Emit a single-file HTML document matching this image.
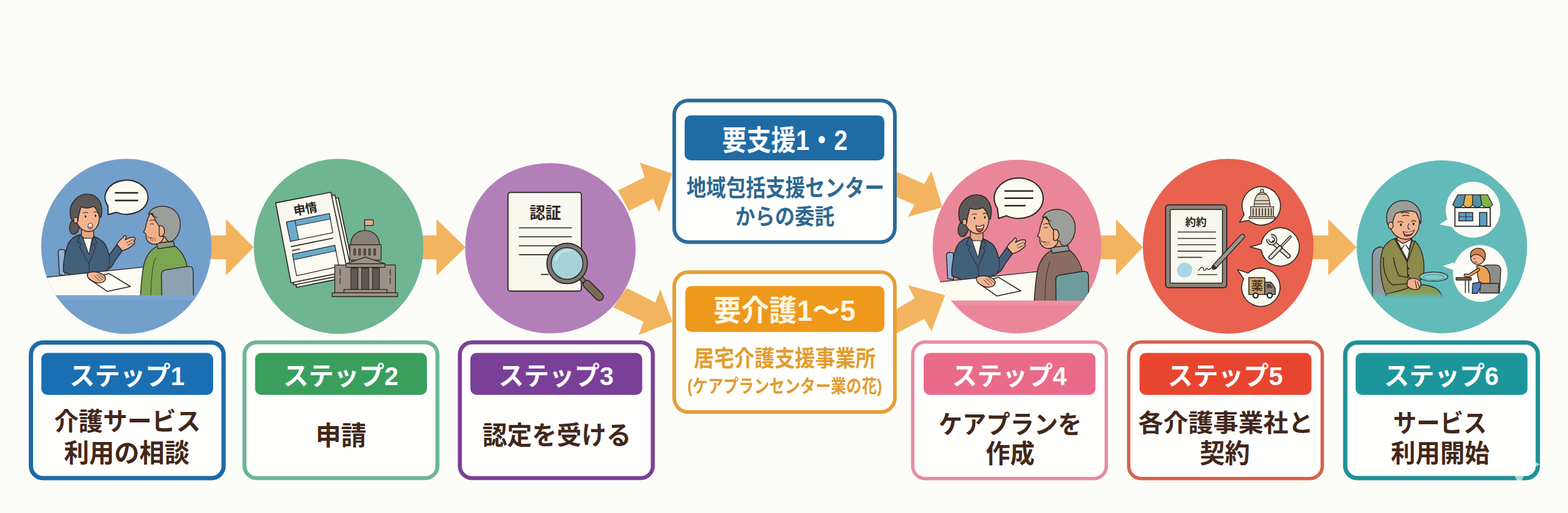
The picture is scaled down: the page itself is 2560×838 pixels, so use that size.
<!DOCTYPE html>
<html lang="ja"><head><meta charset="utf-8"><title>介護サービス利用の流れ</title>
<style>
html,body{margin:0;padding:0;background:#fcfcf8}
body{width:2560px;height:838px;overflow:hidden;position:relative;font-family:"Liberation Sans",sans-serif}
svg{position:absolute;left:0;top:0;display:block}
svg text{font-family:"Liberation Sans","Noto Sans CJK JP",sans-serif;font-weight:bold}
.t{position:absolute;margin:0;color:transparent;white-space:nowrap;text-align:center;overflow:hidden;font-weight:bold}
</style></head><body>
<svg width="2560" height="838" viewBox="0 0 2560 838">
<defs>
<clipPath id="cc1"><path d="M206.3 259.5C283.1 259.5 345.3 323.5 345.3 402.4C345.3 481.3 283.1 545.3 206.3 545.3C129.5 545.3 67.3 481.3 67.3 402.4C67.3 323.5 129.5 259.5 206.3 259.5Z"/></clipPath>
<clipPath id="cc2"><path d="M552.8 259.5C629.2 259.5 691.2 323.5 691.2 402.5C691.2 481.5 629.2 545.5 552.8 545.5C476.4 545.5 414.4 481.5 414.4 402.5C414.4 323.5 476.4 259.5 552.8 259.5Z"/></clipPath>
<clipPath id="cc3"><path d="M898.6 266.4C975.4 266.4 1037.7 328.7 1037.7 405.5C1037.7 482.3 975.4 544.6 898.6 544.6C821.8 544.6 759.5 482.3 759.5 405.5C759.5 324.1 817.2 266.4 898.6 266.4Z"/></clipPath>
<clipPath id="cc4"><path d="M1660.5 261.1C1742.4 261.1 1798.2 318.5 1798.2 402.8C1798.2 481.1 1736.6 544.5 1660.5 544.5C1584.4 544.5 1522.8 481.1 1522.8 402.8C1522.8 324.5 1584.4 261.1 1660.5 261.1Z"/></clipPath>
<clipPath id="cc5"><path d="M2005.2 259.6C2082.1 259.6 2144.5 323.5 2144.5 402.3C2144.5 481.1 2082.1 545.0 2005.2 545.0C1928.3 545.0 1865.9 481.1 1865.9 402.3C1865.9 323.5 1928.3 259.6 2005.2 259.6Z"/></clipPath>
<clipPath id="cc6"><path d="M2354.1 262.0C2430.9 262.0 2493.2 325.2 2493.2 403.2C2493.2 481.2 2430.9 544.4 2354.1 544.4C2277.3 544.4 2215.0 481.2 2215.0 403.2C2215.0 325.2 2277.3 262.0 2354.1 262.0Z"/></clipPath>
<linearGradient id="fade6" x1="0" y1="0" x2="0" y2="1"><stop offset="0" stop-color="#62bab9" stop-opacity="0"/><stop offset="1" stop-color="#62bab9"/></linearGradient>
</defs>
<path fill="#f2b45f" d="M340.0 384.5H368.8V358.0L414.2 404.0L368.8 450.0V423.5H340.0Z"/>
<path fill="#f2b45f" d="M686.0 384.5H712.5V358.0L760.0 404.0L712.5 450.0V423.5H686.0Z"/>
<path fill="#f2b45f" d="M1792.0 384.5H1822.0V358.0L1866.0 404.0L1822.0 450.0V423.5H1792.0Z"/>
<path fill="#f2b45f" d="M2139.0 384.5H2168.5V358.0L2215.0 404.0L2168.5 450.0V423.5H2139.0Z"/>
<path fill="#f2b45f" d="M1009.0 311.0L1052.5 289.4L1044.6 265.7L1097.5 283.5L1076.0 346.5L1066.3 324.8L1027.0 344.5Z"/>
<path fill="#f2b45f" d="M1023.0 470.5L1070.0 494.0L1078.0 472.4L1098.0 525.6L1042.7 547.2L1050.5 525.6L1001.3 502.0Z"/>
<path fill="#f2b45f" d="M1462.0 279.5L1508.9 300.4L1520.7 279.5L1538.4 338.6L1482.5 354.3L1493.0 334.6L1462.0 320.9Z"/>
<path fill="#f2b45f" d="M1462.0 506.0L1493.0 487.4L1482.5 465.7L1543.0 482.3L1520.7 541.3L1509.0 520.9L1462.0 545.3Z"/>
<path d="M206.3 259.5C283.1 259.5 345.3 323.5 345.3 402.4C345.3 481.3 283.1 545.3 206.3 545.3C129.5 545.3 67.3 481.3 67.3 402.4C67.3 323.5 129.5 259.5 206.3 259.5Z" fill="#739fcb"/>
<path d="M552.8 259.5C629.2 259.5 691.2 323.5 691.2 402.5C691.2 481.5 629.2 545.5 552.8 545.5C476.4 545.5 414.4 481.5 414.4 402.5C414.4 323.5 476.4 259.5 552.8 259.5Z" fill="#6fb592"/>
<path d="M898.6 266.4C975.4 266.4 1037.7 328.7 1037.7 405.5C1037.7 482.3 975.4 544.6 898.6 544.6C821.8 544.6 759.5 482.3 759.5 405.5C759.5 324.1 817.2 266.4 898.6 266.4Z" fill="#b37fb9"/>
<path d="M1660.5 261.1C1742.4 261.1 1798.2 318.5 1798.2 402.8C1798.2 481.1 1736.6 544.5 1660.5 544.5C1584.4 544.5 1522.8 481.1 1522.8 402.8C1522.8 324.5 1584.4 261.1 1660.5 261.1Z" fill="#e98799"/>
<path d="M2005.2 259.6C2082.1 259.6 2144.5 323.5 2144.5 402.3C2144.5 481.1 2082.1 545.0 2005.2 545.0C1928.3 545.0 1865.9 481.1 1865.9 402.3C1865.9 323.5 1928.3 259.6 2005.2 259.6Z" fill="#e8624f"/>
<path d="M2354.1 262.0C2430.9 262.0 2493.2 325.2 2493.2 403.2C2493.2 481.2 2430.9 544.4 2354.1 544.4C2277.3 544.4 2215.0 481.2 2215.0 403.2C2215.0 325.2 2277.3 262.0 2354.1 262.0Z" fill="#62bab9"/>
<rect x="50.5" y="559.5" width="314.5" height="221.4" rx="19.5" fill="#fffffd" stroke="#1d6aa5" stroke-width="7.0"/>
<rect x="67.5" y="576.5" width="280.5" height="68.5" rx="10.0" fill="#1a6fb3"/>
<text x="207.5" y="629.3" font-size="42" fill="#fdfdfd" text-anchor="middle" textLength="188" lengthAdjust="spacingAndGlyphs">ステップ1</text>
<text x="208" y="703" font-size="41" fill="#42271a" text-anchor="middle" textLength="239" lengthAdjust="spacingAndGlyphs">介護サービス</text>
<text x="207.1" y="755.4" font-size="42" fill="#42271a" text-anchor="middle" textLength="205" lengthAdjust="spacingAndGlyphs">利用の相談</text>
<rect x="399.2" y="559.2" width="315.0" height="221.9" rx="19.8" fill="#fffffd" stroke="#6fb596" stroke-width="6.5"/>
<rect x="416.5" y="576.5" width="280.5" height="68.5" rx="10.0" fill="#3a9e5d"/>
<text x="556.5" y="629.3" font-size="42" fill="#fdfdfd" text-anchor="middle" textLength="188" lengthAdjust="spacingAndGlyphs">ステップ2</text>
<text x="556.8" y="727" font-size="43" fill="#42271a" text-anchor="middle" textLength="83" lengthAdjust="spacingAndGlyphs">申請</text>
<rect x="750.8" y="559.2" width="315.0" height="221.9" rx="19.8" fill="#fffffd" stroke="#7c3f99" stroke-width="6.5"/>
<rect x="768.0" y="576.5" width="280.5" height="68.5" rx="10.0" fill="#7a3f97"/>
<text x="908" y="629.3" font-size="42" fill="#fdfdfd" text-anchor="middle" textLength="188" lengthAdjust="spacingAndGlyphs">ステップ3</text>
<text x="908.9" y="725.7" font-size="42" fill="#42271a" text-anchor="middle" textLength="243" lengthAdjust="spacingAndGlyphs">認定を受ける</text>
<rect x="1490.2" y="558.8" width="316.0" height="222.9" rx="20.2" fill="#fffffd" stroke="#e58ca4" stroke-width="5.5"/>
<rect x="1508.0" y="576.5" width="280.5" height="68.5" rx="10.0" fill="#e96b89"/>
<text x="1648" y="629.3" font-size="42" fill="#fdfdfd" text-anchor="middle" textLength="187" lengthAdjust="spacingAndGlyphs">ステップ4</text>
<text x="1649.3" y="707.8" font-size="41" fill="#42271a" text-anchor="middle" textLength="234" lengthAdjust="spacingAndGlyphs">ケアプランを</text>
<text x="1649.2" y="755.8" font-size="42" fill="#42271a" text-anchor="middle" textLength="80" lengthAdjust="spacingAndGlyphs">作成</text>
<rect x="1842.8" y="558.8" width="316.0" height="222.9" rx="20.2" fill="#fffffd" stroke="#d5614d" stroke-width="5.5"/>
<rect x="1860.5" y="576.5" width="280.5" height="68.5" rx="10.0" fill="#e8452f"/>
<text x="2000.5" y="629.3" font-size="42" fill="#fdfdfd" text-anchor="middle" textLength="188" lengthAdjust="spacingAndGlyphs">ステップ5</text>
<text x="2001.3" y="705.1" font-size="40" fill="#42271a" text-anchor="middle" textLength="286" lengthAdjust="spacingAndGlyphs">各介護事業社と</text>
<text x="1999.8" y="756.1" font-size="43" fill="#42271a" text-anchor="middle" textLength="82" lengthAdjust="spacingAndGlyphs">契約</text>
<rect x="2196.3" y="559.5" width="314.5" height="221.4" rx="19.5" fill="#fffffd" stroke="#1e9197" stroke-width="7.0"/>
<rect x="2213.3" y="576.5" width="280.5" height="68.5" rx="10.0" fill="#1c959b"/>
<text x="2353.3" y="629.3" font-size="42" fill="#fdfdfd" text-anchor="middle" textLength="187" lengthAdjust="spacingAndGlyphs">ステップ6</text>
<text x="2351" y="706" font-size="41" fill="#42271a" text-anchor="middle" textLength="153" lengthAdjust="spacingAndGlyphs">サービス</text>
<text x="2351.2" y="754.8" font-size="41" fill="#42271a" text-anchor="middle" textLength="161" lengthAdjust="spacingAndGlyphs">利用開始</text>
<rect x="1100.8" y="164.3" width="360.2" height="231.1" rx="23.0" fill="#fffffd" stroke="#2a6b9b" stroke-width="6.0"/>
<rect x="1117.8" y="188.4" width="326.0" height="73.6" rx="10.0" fill="#1f6ba4"/>
<text x="1281.4" y="244.7" font-size="46" fill="#fdfdfd" text-anchor="middle" textLength="205" lengthAdjust="spacingAndGlyphs">要支援1・2</text>
<text x="1282.3" y="320" font-size="38" fill="#2e6891" text-anchor="middle" textLength="323" lengthAdjust="spacingAndGlyphs">地域包括支援センター</text>
<text x="1281.4" y="366.7" font-size="36" fill="#2e6891" text-anchor="middle" textLength="162" lengthAdjust="spacingAndGlyphs">からの委託</text>
<rect x="1100.8" y="444.6" width="360.2" height="228.4" rx="23.0" fill="#fffffd" stroke="#e69f35" stroke-width="6.0"/>
<rect x="1118.8" y="467.2" width="325.0" height="75.0" rx="10.0" fill="#ee991b"/>
<text x="1280.8" y="524" font-size="48" fill="#fdf6e4" text-anchor="middle" textLength="232" lengthAdjust="spacingAndGlyphs">要介護1～5</text>
<text x="1281.3" y="598.6" font-size="37" fill="#e19c2f" text-anchor="middle" textLength="297" lengthAdjust="spacingAndGlyphs">居宅介護支援事業所</text>
<text x="1281.2" y="640.8" font-size="30" fill="#e19c2f" text-anchor="middle" textLength="318" lengthAdjust="spacingAndGlyphs">(ケアプランセンター業の花)</text>
<g clip-path="url(#cc1)">
<g transform="translate(70 290) scale(.25068)">
<g transform=""><path d="M100 488Q100 468 120 468L144 472L144 640L108 632Z" fill="#93b2d8" stroke="#262220" stroke-width="5.5" stroke-linejoin="round" stroke-linecap="round"/><path d="M205 272C172 285 162 345 190 368C222 378 244 335 238 292Z" fill="#5b5957" stroke="#262220" stroke-width="5.5" stroke-linejoin="round" stroke-linecap="round"/><path d="M252 325L250 395L332 398L330 335Z" fill="#e9a682" stroke="#262220" stroke-width="5.5" stroke-linejoin="round" stroke-linecap="round"/><path d="M242 372C205 384 170 408 158 450C140 510 130 570 134 614L200 642L292 658L335 642L400 614L442 586C456 572 462 556 470 542L517 477L482 436L432 506C422 470 412 436 392 418C370 400 348 390 330 383L300 500L262 390Z" fill="#43607a" stroke="#262220" stroke-width="5.5" stroke-linejoin="round" stroke-linecap="round"/><path d="M263 396L319 396L300 502Z" fill="#fbfbf3" stroke="#262220" stroke-width="3"/><path d="M242 372L225 420L252 432L238 452L298 560M330 383L352 425L330 438L345 455L300 560L304 645M432 506C438 540 436 570 420 600" fill="none" stroke="#262220" stroke-width="4" stroke-linejoin="round" stroke-linecap="round" stroke-opacity=".85"/><path d="M214 270C204 214 240 168 300 170C352 174 374 220 367 272C362 322 336 352 300 352C260 352 224 320 214 270Z" fill="#f2b491" stroke="#262220" stroke-width="5.5" stroke-linejoin="round" stroke-linecap="round"/><path d="M182 264C158 160 238 100 300 108C366 115 398 182 378 260C371 264 366 250 362 238C355 214 346 200 330 188C300 202 270 202 250 190C240 216 232 250 228 284C210 292 188 286 182 264Z" fill="#5b5957" stroke="#262220" stroke-width="5.5" stroke-linejoin="round" stroke-linecap="round"/><ellipse cx="214" cy="278" rx="13" ry="19" fill="#f2b491" stroke="#262220" stroke-width="5.5" stroke-linejoin="round" stroke-linecap="round"/><ellipse cx="278" cy="254" rx="5" ry="8" fill="#262220"/><ellipse cx="343" cy="249" rx="5" ry="8" fill="#262220"/><path d="M262 232Q278 222 292 230M330 226Q345 220 356 228" fill="none" stroke="#262220" stroke-width="4" stroke-linecap="round"/><ellipse cx="309" cy="316" rx="15" ry="19" fill="#fdf6ee" stroke="#262220" stroke-width="4.5"/><path d="M296 322Q309 340 322 322Q309 314 296 322Z" fill="#d0574f"/><path d="M336 280l10 6M334 292l9 5" stroke="#d98a70" stroke-width="3.5" stroke-linecap="round"/><path d="M482 436C490 418 505 404 520 394L530 379C538 373 547 384 541 396L536 406C556 395 580 385 595 390C606 395 601 410 591 414C601 418 601 431 591 436C571 456 541 471 517 477Z" fill="#f2b491" stroke="#262220" stroke-width="5.5" stroke-linejoin="round" stroke-linecap="round"/><path d="M545 425L588 404M552 440L588 426" fill="none" stroke="#262220" stroke-width="3.5" stroke-linecap="round"/></g>
<path d="M-60 659L700 579V768H-60Z" fill="#fbfbf2"/><path d="M-60 659L700 579" fill="none" stroke="#262220" stroke-width="5"/>
<g transform=""><path d="M300 660L430 625L570 710L420 742Z" fill="#fdfdf8" stroke="#262220" stroke-width="6" stroke-linejoin="round"/><path d="M290 626C310 610 352 612 382 626C402 636 414 652 406 667C396 687 360 692 335 681C310 670 284 650 290 626Z" fill="#f2b491" stroke="#262220" stroke-width="5.5" stroke-linejoin="round" stroke-linecap="round"/><path d="M335 640L372 676M352 634L388 668M368 630L400 658" fill="none" stroke="#262220" stroke-width="3.5" stroke-linecap="round"/></g>
<g transform=""><path d="M716 396L760 446L846 436L822 376Z" fill="#e7a27e" stroke="#262220" stroke-width="5.5" stroke-linejoin="round" stroke-linecap="round"/><path d="M745 447C700 470 670 510 655 580C645 640 636 700 630 900 L962 900 L942 600C936 540 906 480 852 440Z" fill="#7ba551" stroke="#262220" stroke-width="5.5" stroke-linejoin="round" stroke-linecap="round"/><path d="M735 520C705 590 705 690 700 900" fill="none" stroke="#262220" stroke-width="4" stroke-linejoin="round" stroke-linecap="round" stroke-opacity=".8"/><path d="M738 428L850 416L858 448L750 464Z" fill="#8d9c7c" stroke="#262220" stroke-width="5.5" stroke-linejoin="round" stroke-linecap="round"/><path d="M700 234C685 260 672 300 668 330L656 356L672 368L672 392C680 422 710 442 746 432C792 420 802 350 792 300Z" fill="#f0b08a" stroke="#262220" stroke-width="5.5" stroke-linejoin="round" stroke-linecap="round"/><path d="M688 240C698 198 760 178 812 191C872 206 902 262 894 322C888 372 860 410 830 418C812 420 802 405 798 388L772 380L758 318L738 290L722 252L712 233Z" fill="#9c9e9a" stroke="#262220" stroke-width="5.5" stroke-linejoin="round" stroke-linecap="round"/><path d="M757 316C790 302 802 352 783 376C774 388 759 386 758 374Z" fill="#f0b08a" stroke="#262220" stroke-width="5.5" stroke-linejoin="round" stroke-linecap="round"/><path d="M696 282Q712 272 728 280M700 304Q710 298 720 304M680 386Q692 398 708 392M712 250Q730 252 742 262" fill="none" stroke="#262220" stroke-width="4" stroke-linecap="round"/><path d="M705 392l-3 22M716 392l0 24M727 390l4 22" stroke="#262220" stroke-width="3" stroke-linecap="round" opacity=".7"/><path d="M776 906 L772 632 Q772 606 800 602 L946 579 Q977 576 979 606 L981 906 Z" fill="#8da1b1" stroke="#262220" stroke-width="5.5" stroke-linejoin="round" stroke-linecap="round"/></g>
<rect x="-100" y="768" width="1400" height="400" fill="#739fcb"/>
<rect x="-100" y="768" width="1400" height="32" fill="#86acdc" opacity=".5"/>
</g>
<path d="M176.3 336.2L176.5 350.5L190.2 346.8A35.0 27.8 0 1 0 176.3 336.2Z" fill="#fbfbf1" stroke="#262220" stroke-width="2.0" stroke-linejoin="round"/><path d="M187.5 315H225.5M187.5 327.5H225.5" stroke="#262220" stroke-width="2.6" fill="none"/>
</g>
<g clip-path="url(#cc4)">
<g transform="translate(1524 290) scale(.25068)">
<g transform="translate(-10 5) translate(275 110) scale(1.03 1.04) translate(-275 -110)"><path d="M100 488Q100 468 120 468L144 472L144 640L108 632Z" fill="#93b2d8" stroke="#262220" stroke-width="5.5" stroke-linejoin="round" stroke-linecap="round"/><path d="M205 272C172 285 162 345 190 368C222 378 244 335 238 292Z" fill="#5b5957" stroke="#262220" stroke-width="5.5" stroke-linejoin="round" stroke-linecap="round"/><path d="M252 325L250 395L332 398L330 335Z" fill="#e9a682" stroke="#262220" stroke-width="5.5" stroke-linejoin="round" stroke-linecap="round"/><path d="M242 372C205 384 170 408 158 450C140 510 130 570 134 614L200 642L292 658L335 642L400 614L442 586C456 572 462 556 470 542L517 477L482 436L432 506C422 470 412 436 392 418C370 400 348 390 330 383L300 500L262 390Z" fill="#43607a" stroke="#262220" stroke-width="5.5" stroke-linejoin="round" stroke-linecap="round"/><path d="M263 396L319 396L300 502Z" fill="#fbfbf3" stroke="#262220" stroke-width="3"/><path d="M242 372L225 420L252 432L238 452L298 560M330 383L352 425L330 438L345 455L300 560L304 645M432 506C438 540 436 570 420 600" fill="none" stroke="#262220" stroke-width="4" stroke-linejoin="round" stroke-linecap="round" stroke-opacity=".85"/><path d="M214 270C204 214 240 168 300 170C352 174 374 220 367 272C362 322 336 352 300 352C260 352 224 320 214 270Z" fill="#f2b491" stroke="#262220" stroke-width="5.5" stroke-linejoin="round" stroke-linecap="round"/><path d="M182 264C158 160 238 100 300 108C366 115 398 182 378 260C371 264 366 250 362 238C355 214 346 200 330 188C300 202 270 202 250 190C240 216 232 250 228 284C210 292 188 286 182 264Z" fill="#5b5957" stroke="#262220" stroke-width="5.5" stroke-linejoin="round" stroke-linecap="round"/><ellipse cx="214" cy="278" rx="13" ry="19" fill="#f2b491" stroke="#262220" stroke-width="5.5" stroke-linejoin="round" stroke-linecap="round"/><ellipse cx="278" cy="254" rx="5" ry="8" fill="#262220"/><ellipse cx="343" cy="249" rx="5" ry="8" fill="#262220"/><path d="M262 232Q278 222 292 230M330 226Q345 220 356 228" fill="none" stroke="#262220" stroke-width="4" stroke-linecap="round"/><path d="M286 300Q310 312 338 294Q334 340 306 342Q286 334 286 300Z" fill="#c9473f" stroke="#262220" stroke-width="4.5" stroke-linejoin="round"/><path d="M291 304Q311 314 334 299L332 310Q310 324 293 314Z" fill="#fdf6ee"/><path d="M336 280l10 6M334 292l9 5" stroke="#d98a70" stroke-width="3.5" stroke-linecap="round"/><path d="M482 436C490 418 505 404 520 394L530 379C538 373 547 384 541 396L536 406C556 395 580 385 595 390C606 395 601 410 591 414C601 418 601 431 591 436C571 456 541 471 517 477Z" fill="#f2b491" stroke="#262220" stroke-width="5.5" stroke-linejoin="round" stroke-linecap="round"/><path d="M545 425L588 404M552 440L588 426" fill="none" stroke="#262220" stroke-width="3.5" stroke-linecap="round"/></g>
<path d="M-60 691L700 611V802H-60Z" fill="#fbfbf2"/><path d="M-60 691L700 611" fill="none" stroke="#262220" stroke-width="5"/>
<g transform="translate(-10 5) translate(275 110) scale(1.03 1.04) translate(-275 -110)"><path d="M300 660L430 625L570 710L420 742Z" fill="#fdfdf8" stroke="#262220" stroke-width="6" stroke-linejoin="round"/><path d="M290 626C310 610 352 612 382 626C402 636 414 652 406 667C396 687 360 692 335 681C310 670 284 650 290 626Z" fill="#f2b491" stroke="#262220" stroke-width="5.5" stroke-linejoin="round" stroke-linecap="round"/><path d="M335 640L372 676M352 634L388 668M368 630L400 658" fill="none" stroke="#262220" stroke-width="3.5" stroke-linecap="round"/></g>
<g transform="translate(25 24) translate(790 300) scale(1.03) translate(-790 -300)"><path d="M716 396L760 446L846 436L822 376Z" fill="#e7a27e" stroke="#262220" stroke-width="5.5" stroke-linejoin="round" stroke-linecap="round"/><path d="M745 447C700 470 670 510 655 580C645 640 636 700 630 900 L962 900 L942 600C936 540 906 480 852 440Z" fill="#8a6c62" stroke="#262220" stroke-width="5.5" stroke-linejoin="round" stroke-linecap="round"/><path d="M735 520C705 590 705 690 700 900" fill="none" stroke="#262220" stroke-width="4" stroke-linejoin="round" stroke-linecap="round" stroke-opacity=".8"/><path d="M738 428L850 416L858 448L750 464Z" fill="#8e9a9c" stroke="#262220" stroke-width="5.5" stroke-linejoin="round" stroke-linecap="round"/><path d="M700 234C685 260 672 300 668 330L656 356L672 368L672 392C680 422 710 442 746 432C792 420 802 350 792 300Z" fill="#f0b08a" stroke="#262220" stroke-width="5.5" stroke-linejoin="round" stroke-linecap="round"/><path d="M688 240C698 198 760 178 812 191C872 206 902 262 894 322C888 372 860 410 830 418C812 420 802 405 798 388L772 380L758 318L738 290L722 252L712 233Z" fill="#9c9e9a" stroke="#262220" stroke-width="5.5" stroke-linejoin="round" stroke-linecap="round"/><path d="M757 316C790 302 802 352 783 376C774 388 759 386 758 374Z" fill="#f0b08a" stroke="#262220" stroke-width="5.5" stroke-linejoin="round" stroke-linecap="round"/><path d="M696 282Q712 272 728 280M700 304Q710 298 720 304M680 386Q692 398 708 392M712 250Q730 252 742 262" fill="none" stroke="#262220" stroke-width="4" stroke-linecap="round"/><path d="M705 392l-3 22M716 392l0 24M727 390l4 22" stroke="#262220" stroke-width="3" stroke-linecap="round" opacity=".7"/><path d="M776 906 L772 632 Q772 606 800 602 L946 579 Q977 576 979 606 L981 906 Z" fill="#6e9b9c" stroke="#262220" stroke-width="5.5" stroke-linejoin="round" stroke-linecap="round"/></g>
<rect x="-100" y="802" width="1400" height="400" fill="#e98799"/>
<rect x="-100" y="802" width="1400" height="32" fill="#f595ab" opacity=".5"/>
</g>
<path d="M1628.5 340.3L1630.5 356.8L1643.1 352.4A40.0 33.0 0 1 0 1628.5 340.3Z" fill="#fbfbf1" stroke="#262220" stroke-width="2.0" stroke-linejoin="round"/><path d="M1640 312H1687M1640 323.8H1687M1640 336H1674.5" stroke="#262220" stroke-width="2.6" fill="none"/>
</g>
<g clip-path="url(#cc2)"><g transform="translate(430 300) scale(.25068)">
<path d="M130 175L488 92L596 600L216 676Z" fill="#f3f2e8" stroke="#262220" stroke-width="6.5" stroke-linejoin="round"/>
<path d="M105 150L466 74L578 585L198 660Z" fill="#f6f5ec" stroke="#262220" stroke-width="6.5" stroke-linejoin="round"/>
<path d="M80 125L440 56L548 572L180 646Z" fill="#f9f8f0" stroke="#262220" stroke-width="6.5" stroke-linejoin="round"/>
<path d="M150 250L430 195L452 320L176 376Z" fill="#fbfaf3" stroke="#262220" stroke-width="5" stroke-linejoin="round"/>
<path d="M150 250L430 195L436 230L157 286Z" fill="#6aaaca" stroke="#262220" stroke-width="4" stroke-linejoin="round"/>
<path d="M150 250L205 239L231 365L176 376Z" fill="#6aaaca" stroke="#262220" stroke-width="4" stroke-linejoin="round"/>
<path d="M180 410L455 355" stroke="#262220" stroke-width="7" fill="none"/><path d="M186 437L238 426" stroke="#5a4a40" stroke-width="8" fill="none"/>
<path d="M190 460L465 402L492 540L216 600Z" fill="#fbfaf3" stroke="#262220" stroke-width="5" stroke-linejoin="round"/>
<path d="M190 460L465 402L472 438L197 496Z" fill="#6aaaca" stroke="#262220" stroke-width="4" stroke-linejoin="round"/>
<path d="M660 308V236" fill="none" stroke="#262220" stroke-width="5" stroke-linejoin="round" stroke-linecap="round"/><path d="M660 236H716V273H660Z" fill="#e9a88c" stroke="#262220" stroke-width="5" stroke-linejoin="round" stroke-linecap="round"/><path d="M568 398C570 340 610 306 662 306C714 306 754 340 757 398Z" fill="#8b817a" stroke="#262220" stroke-width="5" stroke-linejoin="round" stroke-linecap="round"/><path d="M563 398H767V498H563Z" fill="#9b9189" stroke="#262220" stroke-width="5" stroke-linejoin="round" stroke-linecap="round"/><path d="M589 466V428Q595 414 601 428V466Z" fill="#5e5852" stroke="#262220" stroke-width="3"/><path d="M621 466V428Q627 414 633 428V466Z" fill="#5e5852" stroke="#262220" stroke-width="3"/><path d="M654 466V428Q660 414 666 428V466Z" fill="#5e5852" stroke="#262220" stroke-width="3"/><path d="M686 466V428Q692 414 698 428V466Z" fill="#5e5852" stroke="#262220" stroke-width="3"/><path d="M719 466V428Q725 414 731 428V466Z" fill="#5e5852" stroke="#262220" stroke-width="3"/><path d="M465 530H860V712H465Z" fill="#9b9189" stroke="#262220" stroke-width="5" stroke-linejoin="round" stroke-linecap="round"/><path d="M538 522L665 478L792 522Z" fill="#9b9189" stroke="#262220" stroke-width="5" stroke-linejoin="round" stroke-linecap="round"/><path d="M538 522H792V545H538Z" fill="#9b9189" stroke="#262220" stroke-width="5" stroke-linejoin="round" stroke-linecap="round"/><path d="M570 550H616V692H570Z" fill="#5e5852" stroke="#262220" stroke-width="4"/><path d="M640 550H686V692H640Z" fill="#5e5852" stroke="#262220" stroke-width="4"/><path d="M710 550H756V692H710Z" fill="#5e5852" stroke="#262220" stroke-width="4"/><path d="M500 556V600M500 612V652" stroke="#5e5852" stroke-width="9" fill="none"/><path d="M826 556V600M826 612V652" stroke="#5e5852" stroke-width="9" fill="none"/><path d="M525 690H805V712H525Z" fill="#9b9189" stroke="#262220" stroke-width="5" stroke-linejoin="round" stroke-linecap="round"/><path d="M448 712H875V736H448Z" fill="#9b9189" stroke="#262220" stroke-width="5" stroke-linejoin="round" stroke-linecap="round"/>
</g>
<g transform="rotate(-10.5 499 340)">
<text x="478.75" y="348.46" font-size="20" fill="#2b2522" textLength="39" lengthAdjust="spacingAndGlyphs">申情</text>
</g></g>
<g clip-path="url(#cc3)"><g transform="translate(770 290) scale(.25068)">
<rect x="237" y="97" width="478" height="643" rx="16" fill="#f9f8ef" stroke="#262220" stroke-width="7.5"/>
<path d="M308 328H652M308 386H652M308 445H560M308 503H520M452 632H502" stroke="#262220" stroke-width="6.5" fill="none"/>
<path d="M708 652L752 696" stroke="#262220" stroke-width="34" stroke-linecap="butt" fill="none"/><path d="M708 652L752 696" stroke="#7d7771" stroke-width="22" fill="none"/>
<path d="M752 696L832 776" stroke="#262220" stroke-width="58" stroke-linecap="round" fill="none"/><path d="M752 696L832 776" stroke="#7b6b56" stroke-width="45" stroke-linecap="round" fill="none"/>
<circle cx="622" cy="560" r="132" fill="#7d7771" stroke="#262220" stroke-width="7"/>
<circle cx="622" cy="560" r="103" fill="#a5d2db" stroke="#262220" stroke-width="6"/>
<path d="M548 540A78 78 0 0 1 640 478" stroke="#cfe9ee" stroke-width="14" fill="none" stroke-linecap="round" opacity=".8"/>
</g>
<text x="864.53" y="356.61" font-size="26" fill="#2a2624" textLength="51.5" lengthAdjust="spacingAndGlyphs">認証</text>
</g>
<g clip-path="url(#cc5)"><g transform="translate(1880 290) scale(.25068)">
<rect x="92" y="178" width="398" height="540" rx="20" fill="#8b8179" stroke="#262220" stroke-width="7"/>
<rect x="122" y="208" width="340" height="480" rx="6" fill="#f9f8ef" stroke="#262220" stroke-width="6"/>
<path d="M170 355H420M170 397H420M170 438H420M170 480H420M170 520H330" stroke="#383432" stroke-width="6.5" fill="none"/>
<path d="M178 575C190 552 225 548 245 565C268 575 270 610 255 632C240 655 200 655 180 640C160 622 162 595 178 575Z" fill="#a9d5e7"/>
<path d="M305 606C318 590 330 578 336 588C340 600 338 612 348 604C356 594 360 586 366 596C372 606 380 596 388 590L404 588M300 633H426" stroke="#262220" stroke-width="5" fill="none" stroke-linecap="round" stroke-linejoin="round"/>
<path d="M408 584L592 384" stroke="#262220" stroke-width="34" stroke-linecap="round" fill="none"/><path d="M408 584L592 384" stroke="#9c968e" stroke-width="23" stroke-linecap="round" fill="none"/>
<path d="M398 596L424 590L404 572Z" fill="#3a3634" stroke="#262220" stroke-width="5" stroke-linejoin="round"/>
<path d="M603.6 241.7L574.0 290.0L633.0 279.3A125.0 125.0 0 1 0 603.6 241.7Z" fill="#fbfbf2" stroke="#262220" stroke-width="6.0" stroke-linejoin="round"/>
<path d="M714.5 432.4L642.0 452.0L714.5 471.6A125.0 125.0 0 1 0 714.5 432.4Z" fill="#fbfbf2" stroke="#262220" stroke-width="6.0" stroke-linejoin="round"/>
<path d="M628.4 622.1L560.0 600.0L599.7 660.2A125.0 125.0 0 1 0 628.4 622.1Z" fill="#fbfbf2" stroke="#262220" stroke-width="6.0" stroke-linejoin="round"/>
<path d="M710 96V82Q720 70 730 82V96" fill="#ddd2bd" stroke="#3f342b" stroke-width="5.5" stroke-linejoin="round" stroke-linecap="round"/>
<path d="M668 190C668 130 690 98 720 96C750 98 772 130 772 190Z" fill="#ddd2bd" stroke="#3f342b" stroke-width="5.5" stroke-linejoin="round" stroke-linecap="round"/>
<path d="M674 150H766M668 172H772M690 112Q720 104 750 112" fill="none" stroke="#3f342b" stroke-width="5.5" stroke-linejoin="round" stroke-linecap="round"/>
<path d="M645 190H795V255H645Z" fill="#ddd2bd" stroke="#3f342b" stroke-width="5.5" stroke-linejoin="round" stroke-linecap="round"/>
<path d="M662 200V248M682 200V248M702 200V248M722 200V248M742 200V248M762 200V248M780 200V248" fill="none" stroke="#3f342b" stroke-width="7"/>
<path d="M636 255H804V267H636Z" fill="#ddd2bd" stroke="#3f342b" stroke-width="5.5" stroke-linejoin="round" stroke-linecap="round"/>
<path d="M795 425L892 512" stroke="#262220" stroke-width="30" stroke-linecap="round" fill="none"/><path d="M795 425L892 512" stroke="#dcdad3" stroke-width="18" stroke-linecap="round" fill="none"/>
<path d="M779.4 379.3A26 26 0 1 1 757.3 401.4" fill="none" stroke="#262220" stroke-width="21" stroke-linecap="butt"/><path d="M779.9 380.3A25.5 25.5 0 1 1 758.3 401.9" fill="none" stroke="#dcdad3" stroke-width="10" stroke-linecap="butt"/>
<path d="M905 386L838 456" stroke="#262220" stroke-width="17" stroke-linecap="round" fill="none"/><path d="M905 386L838 456" stroke="#dcdad3" stroke-width="7" stroke-linecap="round" fill="none"/>
<path d="M836 458L776 520" stroke="#262220" stroke-width="30" stroke-linecap="round" fill="none"/><path d="M836 458L776 520" stroke="#dcdad3" stroke-width="18" stroke-linecap="round" fill="none"/>
<rect x="634" y="652" width="104" height="110" fill="#c9a56b" stroke="#262220" stroke-width="6" stroke-linejoin="round"/>
<path d="M738 682H778L806 722V762H738Z" fill="#8b7f75" stroke="#262220" stroke-width="6" stroke-linejoin="round"/><path d="M752 694H774L790 720H752Z" fill="#4a4440"/>
<circle cx="678" cy="768" r="16" fill="#f4f2ea" stroke="#262220" stroke-width="9"/><circle cx="770" cy="768" r="16" fill="#f4f2ea" stroke="#262220" stroke-width="9"/>
</g>
<text x="1934.92" y="368.65" font-size="17.5" fill="#2e2a28" textLength="35" lengthAdjust="spacingAndGlyphs">約約</text>
<text x="2043.03" y="474.26" font-size="19" fill="#4a3526">薬</text>
</g>
<g clip-path="url(#cc6)"><g transform="translate(2225 290) scale(.25068)">
<path d="M62 790V520Q62 458 118 452L150 470V790Z" fill="#8f9ba1" stroke="#262220" stroke-width="5.5" stroke-linejoin="round" stroke-linecap="round"/>
<path d="M150 790C150 740 200 715 300 705C400 690 500 700 522 790Z" fill="#8b9b4d" stroke="#262220" stroke-width="5.5" stroke-linejoin="round" stroke-linecap="round"/>
<path d="M205 398C160 415 125 450 118 520C110 600 120 690 150 760L250 735L350 700L395 640C405 560 395 470 340 415Z" fill="#8c8a4c" stroke="#262220" stroke-width="5.5" stroke-linejoin="round" stroke-linecap="round"/>
<path d="M215 398L262 372L320 400L290 540Z" fill="#fbfbf3" stroke="#262220" stroke-width="5.5" stroke-linejoin="round" stroke-linecap="round"/>
<path d="M215 398L250 470L270 440M320 400L300 470L282 440" fill="none" stroke="#262220" stroke-width="5.5" stroke-linejoin="round" stroke-linecap="round"/>
<path d="M205 398L288 548L296 700M340 415L290 548" fill="none" stroke="#262220" stroke-width="5.5" stroke-linejoin="round" stroke-linecap="round"/>
<circle cx="296" cy="592" r="6" fill="#262220"/><circle cx="297" cy="638" r="6" fill="#262220"/>
<path d="M135 520C130 600 150 670 195 700L300 690L310 655L235 640C215 600 205 560 200 520" fill="#8c8a4c" stroke="#262220" stroke-width="5.5" stroke-linejoin="round" stroke-linecap="round"/>
<ellipse cx="462" cy="646" rx="92" ry="30" fill="#80cbca" stroke="#262220" stroke-width="5"/><ellipse cx="462" cy="650" rx="68" ry="18" fill="none" stroke="#3e8f94" stroke-width="4"/>
<path d="M292 668C315 650 350 655 372 672C385 690 380 715 360 728C335 735 300 725 288 705Z" fill="#f0b08a" stroke="#262220" stroke-width="5.5" stroke-linejoin="round" stroke-linecap="round"/>
<path d="M340 672L352 722M356 680L368 716" stroke="#262220" stroke-width="4" fill="none" stroke-linecap="round"/>
<path d="M225 360L222 405L262 430L312 405L318 372Z" fill="#e7a27e" stroke="#262220" stroke-width="5.5" stroke-linejoin="round" stroke-linecap="round"/>
<path d="M172 300C165 230 200 180 268 178C335 178 372 225 368 300C364 360 330 402 282 402C228 402 180 360 172 300Z" fill="#f1b48f" stroke="#262220" stroke-width="5.5" stroke-linejoin="round" stroke-linecap="round"/>
<path d="M160 300C138 215 190 148 270 150C345 152 392 215 376 300C368 280 360 250 345 225C310 215 260 215 215 235C200 260 195 285 192 310C180 318 165 315 160 300Z" fill="#9c9e9a" stroke="#262220" stroke-width="5.5" stroke-linejoin="round" stroke-linecap="round"/>
<ellipse cx="182" cy="312" rx="16" ry="22" fill="#f1b48f" stroke="#262220" stroke-width="5.5" stroke-linejoin="round" stroke-linecap="round"/>
<path d="M228 292Q245 280 262 292M318 285Q332 276 346 286M250 232Q275 222 300 232M258 250Q280 242 300 250" fill="none" stroke="#262220" stroke-width="5" stroke-linecap="round"/>
<ellipse cx="248" cy="308" rx="6" ry="9" fill="#262220"/><ellipse cx="330" cy="302" rx="6" ry="9" fill="#262220"/>
<path d="M300 300Q285 330 305 338" fill="none" stroke="#262220" stroke-width="4.5" stroke-linecap="round"/>
<path d="M262 352Q300 368 336 342Q318 392 272 380Z" fill="#c8453e" stroke="#262220" stroke-width="4.5" stroke-linejoin="round"/><path d="M268 356Q300 366 330 348L326 358Q298 372 272 364Z" fill="#fdf6ee"/>
<rect x="30" y="742" width="540" height="44" fill="url(#fade6)"/><rect x="30" y="785" width="540" height="40" fill="#62bab9"/>
<g fill="#fcfcf6"><ellipse cx="718" cy="210" rx="178" ry="182"/><path d="M500 306L565 262L580 322Z"/></g>
<g fill="#fcfcf6"><ellipse cx="765" cy="625" rx="178" ry="185"/><path d="M520 576L595 552L598 606Z"/></g>
<path d="M600 196H830V318H600Z" fill="#fbfbf3" stroke="#262220" stroke-width="7"/>
<path d="M626 228H716V282H626Z" fill="#5c9fc6" stroke="#262220" stroke-width="6"/><path d="M671 228V282M626 255H716" stroke="#262220" stroke-width="4"/>
<path d="M760 228H808V316H760Z" fill="#5c9fc6" stroke="#262220" stroke-width="6"/>
<path d="M618 112L668 112L655 178Q620 212 585 178Z" fill="#4f8ea7" stroke="#262220" stroke-width="5" stroke-linejoin="round"/>
<path d="M668 112L716 112L715 178Q685 212 655 178Z" fill="#e8b14b" stroke="#262220" stroke-width="5" stroke-linejoin="round"/>
<path d="M716 112L764 112L775 178Q745 212 715 178Z" fill="#4f8ea7" stroke="#262220" stroke-width="5" stroke-linejoin="round"/>
<path d="M764 112L812 112L846 178Q810 212 775 178Z" fill="#7bb749" stroke="#262220" stroke-width="5" stroke-linejoin="round"/>
<path d="M770 752V610Q772 572 810 570H870Q900 572 898 610L890 752Z" fill="#8d8d8b" stroke="#262220" stroke-width="5.5" stroke-linejoin="round" stroke-linecap="round"/>
<path d="M742 575C775 565 815 585 826 630L830 690L760 690L748 640Z" fill="#f0a052" stroke="#262220" stroke-width="5.5" stroke-linejoin="round" stroke-linecap="round"/>
<path d="M716 690L768 680L775 700L745 755H712Z" fill="#4f80c1" stroke="#262220" stroke-width="5.5" stroke-linejoin="round" stroke-linecap="round"/>
<path d="M770 690H885V752H760Z" fill="#8d8d8b" stroke="#262220" stroke-width="5.5" stroke-linejoin="round" stroke-linecap="round"/>
<path d="M752 600L690 640L668 636" fill="none" stroke="#262220" stroke-width="22" stroke-linecap="round"/><path d="M752 600L690 640L668 636" fill="none" stroke="#f0a052" stroke-width="12" stroke-linecap="round"/>
<path d="M608 652H706V668H608Z" fill="#8a6a50" stroke="#262220" stroke-width="5.5" stroke-linejoin="round" stroke-linecap="round"/><path d="M668 668V752M690 668V752" stroke="#262220" stroke-width="6"/>
<circle cx="748" cy="520" r="46" fill="#f1b48f" stroke="#262220" stroke-width="5.5" stroke-linejoin="round" stroke-linecap="round"/>
<path d="M702 520C695 470 735 455 765 462C800 470 805 510 792 540C785 520 770 505 740 500C722 500 710 510 702 520Z" fill="#d9824b" stroke="#262220" stroke-width="5.5" stroke-linejoin="round" stroke-linecap="round"/>
<path d="M722 528l10 2M728 548q8 6 16 2" stroke="#262220" stroke-width="4" fill="none" stroke-linecap="round"/>
</g></g>
<path d="M2480.5 724.5L2491.8 747.2L2514.5 758.5L2491.8 769.8L2480.5 792.5L2469.2 769.8L2446.5 758.5L2469.2 747.2Z" fill="#ffffff" opacity=".62"/>
</svg>
<p class="t" style="left:115px;top:590px;width:184px;height:43px;font-size:39px;line-height:43px">ステップ1</p>
<p class="t" style="left:88px;top:664px;width:237px;height:43px;font-size:39px;line-height:43px">介護サービス</p>
<p class="t" style="left:105px;top:717px;width:205px;height:43px;font-size:39px;line-height:43px">利用の相談</p>
<p class="t" style="left:464px;top:590px;width:184px;height:43px;font-size:39px;line-height:43px">ステップ2</p>
<p class="t" style="left:519px;top:689px;width:79px;height:42px;font-size:38px;line-height:42px">申請</p>
<p class="t" style="left:816px;top:590px;width:184px;height:43px;font-size:39px;line-height:43px">ステップ3</p>
<p class="t" style="left:788px;top:687px;width:239px;height:43px;font-size:39px;line-height:43px">認定を受ける</p>
<p class="t" style="left:1556px;top:590px;width:184px;height:43px;font-size:39px;line-height:43px">ステップ4</p>
<p class="t" style="left:1533px;top:671px;width:230px;height:40px;font-size:36px;line-height:40px">ケアプランを</p>
<p class="t" style="left:1610px;top:718px;width:79px;height:43px;font-size:39px;line-height:43px">作成</p>
<p class="t" style="left:1908px;top:590px;width:184px;height:43px;font-size:39px;line-height:43px">ステップ5</p>
<p class="t" style="left:1858px;top:671px;width:281px;height:38px;font-size:34px;line-height:38px">各介護事業社と</p>
<p class="t" style="left:1959px;top:718px;width:80px;height:43px;font-size:39px;line-height:43px">契約</p>
<p class="t" style="left:2261px;top:590px;width:184px;height:43px;font-size:39px;line-height:43px">ステップ6</p>
<p class="t" style="left:2276px;top:669px;width:150px;height:40px;font-size:36px;line-height:40px">サービス</p>
<p class="t" style="left:2271px;top:719px;width:161px;height:40px;font-size:36px;line-height:40px">利用開始</p>
<p class="t" style="left:1180px;top:202px;width:203px;height:47px;font-size:42px;line-height:47px">要支援1・2</p>
<p class="t" style="left:1120px;top:284px;width:322px;height:39px;font-size:35px;line-height:39px">地域包括支援センター</p>
<p class="t" style="left:1202px;top:333px;width:161px;height:38px;font-size:34px;line-height:38px">からの委託</p>
<p class="t" style="left:1166px;top:481px;width:230px;height:47px;font-size:43px;line-height:47px">要介護1～5</p>
<p class="t" style="left:1133px;top:565px;width:297px;height:38px;font-size:34px;line-height:38px">居宅介護支援事業所</p>
<p class="t" style="left:1123px;top:612px;width:316px;height:35px;font-size:32px;line-height:35px">(ケアプランセンター業の花)</p>
<p class="t" style="left:480px;top:330px;width:37px;height:20px;font-size:18px;line-height:20px">申情</p>
<p class="t" style="left:865px;top:335px;width:50px;height:24px;font-size:22px;line-height:24px">認証</p>
<p class="t" style="left:1935px;top:354px;width:34px;height:16px;font-size:15px;line-height:16px">約約</p>
<p class="t" style="left:2044px;top:458px;width:17px;height:18px;font-size:17px;line-height:18px">薬</p>
</body></html>
